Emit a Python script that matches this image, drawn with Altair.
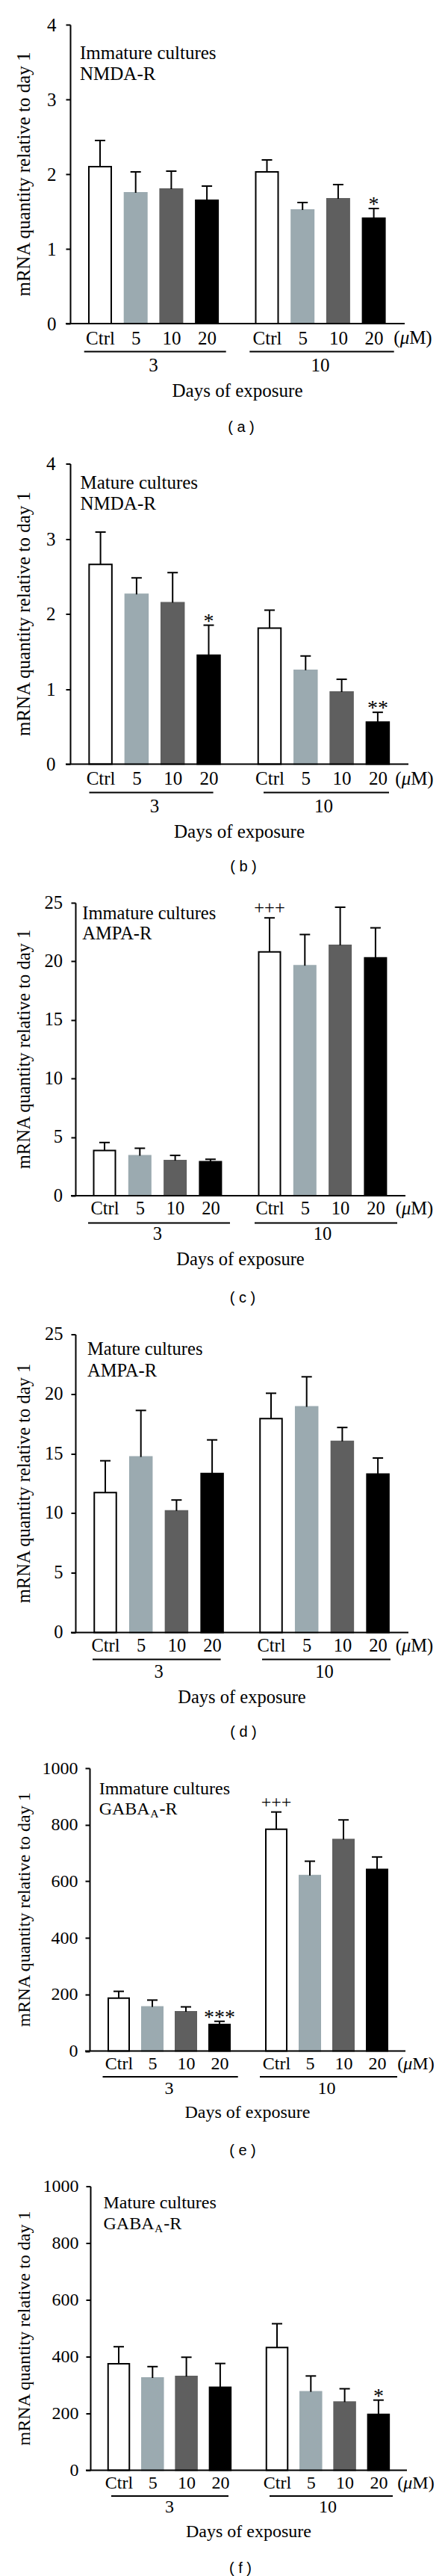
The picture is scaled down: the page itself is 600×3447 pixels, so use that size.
import altair as alt
import pandas as pd

# ---------------- data ----------------
DOSES = ["Ctrl", "5", "10", "20"]          # uM
DAYS = ["3", "10"]                          # days of exposure
Y_TITLE = "mRNA quantity relative to day 1"
X_TITLE = "Days of exposure"

# (a) Immature cultures, NMDA-R
a_mean = [2.10, 1.75, 1.80, 1.65, 2.03, 1.52, 1.67, 1.41]
a_sem = [0.35, 0.28, 0.24, 0.19, 0.16, 0.10, 0.19, 0.13]
a_sig = ["", "", "", "", "", "", "", "*"]
# (b) Mature cultures, NMDA-R
b_mean = [2.66, 2.26, 2.15, 1.45, 1.81, 1.25, 0.96, 0.56]
b_sem = [0.43, 0.22, 0.40, 0.40, 0.24, 0.19, 0.17, 0.13]
b_sig = ["", "", "", "*", "", "", "", "**"]
# (c) Immature cultures, AMPA-R
c_mean = [3.86, 3.41, 2.99, 2.90, 20.81, 19.63, 21.37, 20.29]
c_sem = [0.68, 0.64, 0.45, 0.21, 2.90, 2.66, 3.25, 2.57]
c_sig = ["", "", "", "", "+++", "", "", ""]
# (d) Mature cultures, AMPA-R
d_mean = [11.74, 14.72, 10.20, 13.33, 17.94, 18.92, 16.03, 13.28]
d_sem = [2.66, 3.90, 0.91, 2.82, 2.12, 2.52, 1.16, 1.35]
d_sig = ["", "", "", "", "", "", "", ""]
# (e) Immature cultures, GABA_A-R
e_mean = [187, 156, 139, 94, 784, 620, 748, 642]
e_sem = [24, 24, 17, 11, 61, 51, 69, 44]
e_sig = ["", "", "", "***", "+++", "", "", ""]
# (f) Mature cultures, GABA_A-R
f_mean = [375, 325, 330, 292, 432, 276, 240, 197]
f_sem = [60, 40, 68, 84, 84, 56, 47, 50]
f_sig = ["", "", "", "", "", "", "", "*"]

# ---------------- styles ----------------
SERIF = "Liberation Serif"
SANS = "Liberation Sans"
BLACK = "#000000"
WHITE = "#FFFFFF"
LIGHT_BLUE = "#9BAAB0"
LIGHT_GRAY = "#A0A0A4"
DARK = "#5F5F5F"

# ---------------- layout (page pixels) ----------------
ORIGIN = 93        # common left edge of every plot area (page x)
TITLE_X = 39       # page x of the rotated y-title baseline
LAYOUT = {
    "a": dict(L=93, R=541, H=400, fs=25, c0=133, p=47.7, g2=356.5, bw=32, ypad=13, lab=27, ul=37.5,
              grp=55.7, days=97.7, cap=139.4, capx=322, tx=13, ty1=37.5, ty2=66,
              u1=(111.7, 301.7), u2=(333.3, 526.7), mux=552),
    "b": dict(L=93, R=546, H=402, fs=25, c0=133.6, p=48.3, g2=360, bw=32.5, ypad=14, lab=27.4, ul=37.9,
              grp=56.1, days=98.5, cap=137, capx=325, tx=13.5, ty1=25, ty2=53,
              u1=(118.5, 284.6), u2=(352, 520), mux=554),
    "c": dict(L=100, R=542, H=392, fs=24.5, c0=139, p=47.3, g2=360, bw=31, ypad=11.6, lab=24.6, ul=36.4,
              grp=51.7, days=93.3, cap=137, capx=324, tx=9.3, ty1=15.2, ty2=41.8,
              u1=(117, 307), u2=(340, 531), mux=554),
    "d": dict(L=100, R=546, H=399, fs=24.5, c0=140, p=47.7, g2=362, bw=31.5, ypad=11, lab=25.1, ul=36,
              grp=53, days=94.8, cap=133.2, capx=325, tx=16, ty1=20.3, ty2=49,
              u1=(123, 294.6), u2=(350, 522), mux=554),
    "e": dict(L=119, R=542, H=378.5, fs=24, c0=158, p=45, g2=369, bw=30, ypad=10, lab=24.1, ul=34.6,
              grp=50.5, days=89.6, cap=133, capx=324, tx=12.7, ty1=28.2, ty2=54.9,
              u1=(136.5, 317.7), u2=(347, 531), mux=556),
    "f": dict(L=120, R=544, H=380, fs=24, c0=158, p=45.3, g2=370, bw=30.5, ypad=10, lab=24.4, ul=34.6,
              grp=49.8, days=89.6, cap=131.2, capx=321, tx=17.5, ty1=22, ty2=50,
              u1=(148, 305), u2=(360, 525), mux=556),
}

PANELS = [
    ("a", "Immature cultures", "NMDA-R", a_mean, a_sem, a_sig, 4, 1, LIGHT_BLUE),
    ("b", "Mature cultures", "NMDA-R", b_mean, b_sem, b_sig, 4, 1, LIGHT_BLUE),
    ("c", "Immature cultures", "AMPA-R", c_mean, c_sem, c_sig, 25, 5, LIGHT_GRAY),
    ("d", "Mature cultures", "AMPA-R", d_mean, d_sem, d_sig, 25, 5, LIGHT_GRAY),
    ("e", "Immature cultures", ("GABA", "A", "-R"), e_mean, e_sem, e_sig, 1000, 200, LIGHT_BLUE),
    ("f", "Mature cultures", ("GABA", "A", "-R"), f_mean, f_sem, f_sig, 1000, 200, LIGHT_BLUE),
]


def txt(text, x, y, fs, font=SERIF, align="left", baseline="middle", **kw):
    return alt.Chart(pd.DataFrame({"t": [text]})).mark_text(
        font=font, fontSize=fs, align=align, baseline=baseline, color=BLACK, **kw
    ).encode(x=alt.value(x), y=alt.value(y), text="t:N")


def build(key, culture, receptor, mean, sem, sig, ymax, ystep, light):
    lay = LAYOUT[key]
    L, R, H, fs, p = lay["L"], lay["R"], lay["H"], lay["fs"], lay["p"]
    W = R - ORIGIN
    shift = L - ORIGIN  # visible y-axis sits this far right of the plot origin

    def slot(px):
        return (px - lay["c0"]) / p

    G = slot(lay["g2"])
    rows = []
    for gi, day in enumerate(DAYS):
        for di, dose in enumerate(DOSES):
            k = gi * 4 + di
            pos = di + (G if gi else 0.0)
            rows.append({"day": day, "dose": dose, "pos": pos, "mean": mean[k],
                         "upper": mean[k] + sem[k], "sig": sig[k]})
    df = pd.DataFrame(rows)
    hb = (lay["bw"] - 2) / 2 / p
    hc = 7 / p
    df["x1"] = df["pos"] - hb
    df["x2"] = df["pos"] + hb
    df["c1"] = df["pos"] - hc
    df["c2"] = df["pos"] + hc

    xs = alt.Scale(domain=[slot(ORIGIN), slot(R)], nice=False, zero=False)
    ys = alt.Scale(domain=[0, ymax], nice=False, zero=True)

    lbls = "[" + ",".join("'%s'" % d for d in DOSES) + "]"
    label_expr = (f"datum.value < {G - 0.5:.4f} ? {lbls}[round(datum.value)] : "
                  f"{lbls}[round(datum.value - {G:.4f})]")
    xaxis = alt.Axis(values=[float(v) for v in df["pos"]], labelExpr=label_expr, title=None,
                     labelFont=SERIF, labelFontSize=fs, labelColor=BLACK, labelBaseline="alphabetic",
                     labelPadding=lay["lab"], labelAngle=0, labelOverlap=False, labelFlush=False,
                     ticks=False, tickSize=0, domain=False, grid=False)
    yaxis = alt.Axis(values=list(range(0, ymax + 1, ystep)), format="d", title=None, offset=-shift,
                     labelFont=SERIF, labelFontSize=fs, labelColor=BLACK, labelPadding=lay["ypad"],
                     labelFlush=False, labelOverlap=False, tickSize=6, tickWidth=2, tickColor=BLACK,
                     domainColor=BLACK, domainWidth=2, grid=False)

    def X(field):
        return alt.X(field, scale=xs, axis=xaxis)

    def Y(field):
        return alt.Y(field, scale=ys, axis=yaxis)

    bars = alt.Chart(df).mark_rect(strokeWidth=2).encode(
        x=X("x1:Q"), x2="x2:Q",
        y=Y("mean:Q"), y2=alt.datum(0),
        fill=alt.Fill("dose:N", scale=alt.Scale(domain=DOSES, range=[WHITE, light, DARK, BLACK]), legend=None),
        stroke=alt.Stroke("dose:N", scale=alt.Scale(domain=DOSES, range=[BLACK, light, DARK, BLACK]), legend=None),
    )
    err_v = alt.Chart(df).mark_rule(color=BLACK, strokeWidth=2).encode(
        x=X("pos:Q"), y=Y("mean:Q"), y2="upper:Q")
    err_c = alt.Chart(df).mark_rule(color=BLACK, strokeWidth=2).encode(
        x=X("c1:Q"), x2="c2:Q", y=Y("upper:Q"))
    # baseline (x axis line), starting at the end of the y-axis zero tick
    base_df = pd.DataFrame({"b1": [slot(L - 6)], "b2": [slot(R)], "zero": [0]})
    baseline = alt.Chart(base_df).mark_rule(color=BLACK, strokeWidth=2).encode(
        x=X("b1:Q"), x2="b2:Q", y=Y("zero:Q"))
    layers = [bars, err_v, err_c, baseline]

    star_df = df[df["sig"].str.contains("*", regex=False)]
    if len(star_df):
        layers.append(alt.Chart(star_df).mark_text(font=SERIF, fontSize=28, baseline="alphabetic",
                                                   dy=3, color=BLACK).encode(
            x=X("pos:Q"), y=Y("upper:Q"), text="sig:N"))
    plus_df = df[df["sig"].str.contains("+", regex=False)]
    if len(plus_df):
        layers.append(alt.Chart(plus_df).mark_text(font=SERIF, fontSize=fs, baseline="alphabetic",
                                                   dy=-5.5, color=BLACK).encode(
            x=X("pos:Q"), y=Y("upper:Q"), text="sig:N"))

    # day groups under the dose labels
    gdf = pd.DataFrame({"day": DAYS,
                        "u1": [slot(lay["u1"][0]), slot(lay["u2"][0])],
                        "u2": [slot(lay["u1"][1]), slot(lay["u2"][1])],
                        "mid": [1.5, G + 1.5]})
    layers.append(alt.Chart(gdf).mark_rule(color=BLACK, strokeWidth=2).encode(
        x=X("u1:Q"), x2="u2:Q", y=alt.value(H + lay["ul"])))
    layers.append(alt.Chart(gdf).mark_text(font=SERIF, fontSize=fs, baseline="middle", color=BLACK).encode(
        x=X("mid:Q"), y=alt.value(H + lay["grp"]), text="day:N"))

    # unit "(uM)" with italic mu
    mdf = pd.DataFrame({"mx": [slot(lay["mux"])]})
    left = -1.0275 * fs
    for t, dx, style in [("(", left, "normal"), ("\u03bc", left + 0.333 * fs, "italic"),
                         ("M)", left + 0.833 * fs, "normal")]:
        layers.append(alt.Chart(mdf).mark_text(font=SERIF, fontSize=fs, fontStyle=style, align="left",
                                               baseline="alphabetic", dx=dx, color=BLACK).encode(
            x=X("mx:Q"), y=alt.value(H + lay["lab"]), text=alt.value(t)))

    # axis titles and panel caption
    layers.append(txt(Y_TITLE, TITLE_X - ORIGIN, H / 2, fs, align="center", baseline="alphabetic", angle=270))
    layers.append(txt(X_TITLE, (L + R) / 2 - ORIGIN, H + lay["days"], fs, align="center", baseline="alphabetic"))
    layers.append(txt(f"( {key} )", lay["capx"] - ORIGIN, H + lay["cap"], 20, font=SANS, align="center"))

    # panel heading
    tx = lay["tx"] + shift
    layers.append(txt(culture, tx, lay["ty1"], fs))
    if isinstance(receptor, tuple):
        main, sub, rest = receptor
        sub_fs = round(0.65 * fs, 1)
        x_sub = tx + 2.833 * fs + 0.5
        x_rest = x_sub + 0.722 * sub_fs + 1
        layers.append(txt(main, tx, lay["ty2"], fs))
        layers.append(txt(sub, x_sub, lay["ty2"] + 6, sub_fs))
        layers.append(txt(rest, x_rest, lay["ty2"], fs))
    else:
        layers.append(txt(receptor, tx, lay["ty2"], fs))

    return alt.layer(*layers).properties(width=W, height=H)


panels = [build(*args) for args in PANELS]
chart = alt.concat(*panels, columns=1, spacing=25.5).properties(
    padding={"left": ORIGIN - 8 - (ORIGIN - TITLE_X + 20), "top": 13, "right": 0, "bottom": 0}
).configure_view(stroke=None)

chart.save("out.html", embed_options={"renderer": "svg", "actions": False})
